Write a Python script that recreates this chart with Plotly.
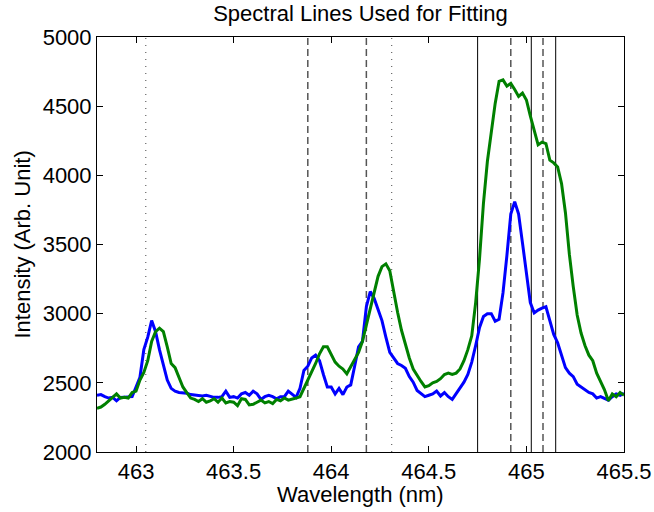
import numpy as np
import plotly.graph_objects as go

# Wavelength grid (nm)
wavelength = np.round(np.arange(462.80, 465.5001, 0.02), 2)

# Measured spectra (arbitrary units)
spectrum_blue = [
    2410, 2415, 2400, 2390, 2395, 2370, 2395, 2395, 2400, 2400,   # 462.80-462.98
    2470, 2540, 2740, 2830, 2950, 2870, 2740, 2620, 2520, 2460,   # 463.00-463.18
    2440, 2430, 2430, 2425, 2415, 2410, 2410, 2405, 2410, 2400,   # 463.20-463.38
    2395, 2395, 2400, 2440, 2395, 2400, 2390, 2420, 2430, 2410,   # 463.40-463.58
    2440, 2420, 2380, 2400, 2410, 2400, 2385, 2400, 2400, 2440,   # 463.60-463.78
    2415, 2395, 2460, 2590, 2620, 2680, 2700, 2660, 2560, 2470,   # 463.80-463.98
    2470, 2420, 2460, 2415, 2470, 2485, 2620, 2760, 2800, 3050,   # 464.00-464.18
    3160, 3110, 3030, 2950, 2830, 2720, 2680, 2640, 2625, 2605,   # 464.20-464.38
    2545, 2505, 2445, 2420, 2400, 2410, 2420, 2440, 2405, 2430,   # 464.40-464.58
    2400, 2380, 2420, 2465, 2505, 2560, 2650, 2770, 2900, 2980,   # 464.60-464.78
    3000, 3000, 2945, 2960, 3150, 3420, 3720, 3810, 3720, 3510,   # 464.80-464.98
    3290, 3080, 3005, 3026, 3040, 3050, 2950, 2850, 2790, 2700,   # 465.00-465.18
    2610, 2570, 2545, 2490, 2470, 2450, 2430, 2420, 2390, 2400,   # 465.20-465.38
    2385, 2375, 2400, 2420, 2410, 2425,                           # 465.40-465.50
]

spectrum_green = [
    2316, 2325, 2345, 2370, 2395, 2420, 2390, 2395, 2390, 2430,   # 462.80-462.98
    2440, 2520, 2575, 2660, 2800, 2870, 2895, 2870, 2760, 2640,   # 463.00-463.18
    2610, 2540, 2470, 2430, 2390, 2380, 2365, 2385, 2360, 2370,   # 463.20-463.38
    2385, 2360, 2390, 2355, 2365, 2360, 2335, 2385, 2380, 2340,   # 463.40-463.58
    2345, 2360, 2375, 2355, 2365, 2350, 2380, 2370, 2390, 2375,   # 463.60-463.78
    2380, 2390, 2400, 2460, 2510, 2570, 2640, 2710, 2760, 2760,   # 463.80-463.98
    2710, 2650, 2620, 2600, 2565, 2620, 2670, 2720, 2800, 2920,   # 464.00-464.18
    3050, 3170, 3270, 3340, 3360, 3310, 3150, 3010, 2880, 2780,   # 464.20-464.38
    2680, 2600, 2550, 2510, 2470, 2480, 2500, 2510, 2530, 2560,   # 464.40-464.58
    2570, 2560, 2570, 2600, 2660, 2740, 2840, 3080, 3400, 3800,   # 464.60-464.78
    4100, 4320, 4520, 4680, 4690, 4645, 4665, 4620, 4570, 4595,   # 464.80-464.98
    4545, 4430, 4330, 4220, 4240, 4230, 4110, 4090, 4060, 3940,   # 465.00-465.18
    3730, 3430, 3195, 2990, 2860, 2770, 2700, 2660, 2570, 2510,   # 465.20-465.38
    2450, 2370, 2420, 2400, 2430, 2410,                           # 465.40-465.50
]

# Reference line positions (nm)
dotted_lines = [463.05, 464.31]
dashed_lines = [463.88, 464.18, 464.92, 465.085]
solid_lines = [464.75, 465.025, 465.15]

x_ticks = [463, 463.5, 464, 464.5, 465, 465.5]
x_tick_labels = ["463", "463.5", "464", "464.5", "465", "465.5"]
y_ticks = [2000, 2500, 3000, 3500, 4000, 4500, 5000]
y_tick_labels = ["2000", "2500", "3000", "3500", "4000", "4500", "5000"]

FONT = "Liberation Sans, Arial, Helvetica, sans-serif"
TEXT = dict(family=FONT, size=22, color="black")

W, H = 654, 512
L, R, T, B = 97, 30, 37, 60
plot_w, plot_h = W - L - R, H - T - B

fig = go.Figure()

fig.add_trace(go.Scatter(x=wavelength, y=spectrum_blue, mode="lines",
                         line=dict(color="#0000ff", width=3), showlegend=False))
fig.add_trace(go.Scatter(x=wavelength, y=spectrum_green, mode="lines",
                         line=dict(color="#008000", width=3), showlegend=False))

for xv in dotted_lines:
    fig.add_shape(type="line", xref="x", yref="paper", x0=xv, x1=xv, y0=0, y1=1,
                  line=dict(color="#444444", width=1, dash="1px,6px"), layer="below")
for xv in dashed_lines:
    fig.add_shape(type="line", xref="x", yref="paper", x0=xv, x1=xv, y0=0, y1=1,
                  line=dict(color="#555555", width=1.5, dash="7px,4px"), layer="below")
for xv in solid_lines:
    fig.add_shape(type="line", xref="x", yref="paper", x0=xv, x1=xv, y0=0, y1=1,
                  line=dict(color="#000000", width=1), layer="below")

axis_common = dict(showline=True, linecolor="black", linewidth=1, mirror="ticks",
                   ticks="inside", ticklen=6, tickwidth=1, tickcolor="black",
                   showgrid=False, zeroline=False, automargin=False,
                   tickfont=TEXT)

fig.update_xaxes(range=[462.8, 465.5], tickvals=x_ticks, ticktext=x_tick_labels,
                 **axis_common)
fig.update_yaxes(range=[2000, 5000], tickvals=y_ticks, ticktext=y_tick_labels,
                 **axis_common)

# Axis titles
fig.add_annotation(text="Wavelength (nm)", xref="paper", yref="paper",
                   x=0.5, y=-(494 - (H - B)) / plot_h, xanchor="center", yanchor="middle",
                   showarrow=False, font=TEXT)
fig.add_annotation(text="Intensity (Arb. Unit)", xref="paper", yref="paper",
                   x=-(L - 22) / plot_w, y=0.5, xanchor="center", yanchor="middle",
                   textangle=-90, showarrow=False, font=TEXT)

fig.update_layout(
    width=W, height=H,
    margin=dict(l=L, r=R, t=T, b=B),
    paper_bgcolor="white", plot_bgcolor="white",
    title=dict(text="Spectral Lines Used for Fitting", x=(L + plot_w / 2) / W,
               xanchor="center", y=1 - 13 / H, yanchor="middle", yref="container",
               font=TEXT),
    font=dict(family=FONT, color="black"),
)

fig.write_html("out.html")
